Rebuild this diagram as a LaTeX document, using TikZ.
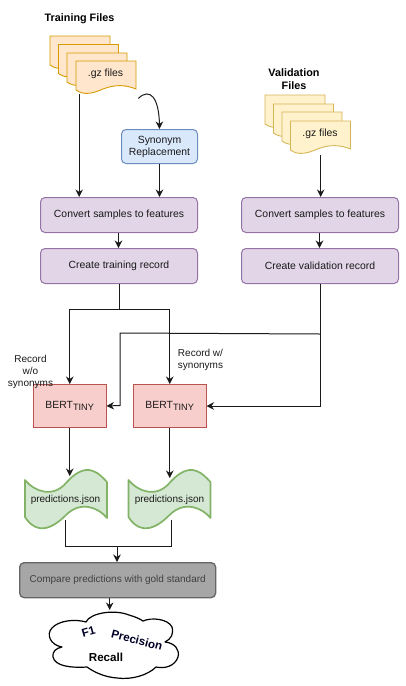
\documentclass[tikz,border=0pt]{standalone}
\usepackage{fontspec}
\setmainfont{Liberation Sans}
\usetikzlibrary{arrows.meta,calc}
\definecolor{orF}{HTML}{FFE6CC}\definecolor{orD}{HTML}{D79B00}
\definecolor{yeF}{HTML}{FFF2CC}\definecolor{yeD}{HTML}{D6B656}
\definecolor{blF}{HTML}{DAE8FC}\definecolor{blD}{HTML}{6C8EBF}
\definecolor{puF}{HTML}{E1D5E7}\definecolor{puD}{HTML}{9673A6}
\definecolor{reF}{HTML}{F8CECC}\definecolor{reD}{HTML}{B85450}
\definecolor{grF}{HTML}{D5E8D4}\definecolor{grD}{HTML}{82B366}
\definecolor{gyF}{HTML}{A6A6A6}\definecolor{gyD}{HTML}{666666}
\definecolor{ink}{HTML}{1A1A1A}
\tikzset{
  txt/.style={font=\fontsize{10.4}{12}\selectfont,text=ink,inner sep=0pt,align=center},
  smalltxt/.style={txt,font=\fontsize{10}{12}\selectfont},
  ttl/.style={font=\bfseries\fontsize{10.8}{13}\selectfont,text=black,inner sep=0pt,align=center},
  cloudtxt/.style={font=\bfseries\fontsize{11.6}{13}\selectfont,text=black,inner sep=0pt},
  flowbox/.style={txt,draw=puD,fill=puF,rounded corners=4.5pt,line width=1pt,minimum width=157pt,minimum height=35pt,anchor=north west},
  synbox/.style={txt,draw=blD,fill=blF,rounded corners=4.5pt,line width=1pt,minimum width=76pt,minimum height=34pt,anchor=north west},
  bertbox/.style={txt,draw=reD,fill=reF,line width=1pt,minimum width=72.5pt,minimum height=43pt,anchor=north west},
  cmpbox/.style={smalltxt,draw=gyD,fill=gyF,text=black!75,rounded corners=4.5pt,line width=1.3pt,minimum width=196pt,minimum height=35pt,anchor=north west},
  hidden/.style={inner sep=0pt,anchor=north west},
  wire/.style={draw=ink,line width=1pt},
  arrow/.style={wire,-{Stealth[length=7.5pt,width=7.5pt]}},
  sheet/.style={line width=.9pt},
  tapeline/.style={draw=grD,fill=grF,line width=1.7pt,line join=round}
}
% left, top, fill, draw
\newcommand{\docsheet}[4]{%
  \begin{scope}[shift={(#1,#2)}]
  \path[sheet,fill=#3,draw=#4] (0,0) -- (60,0) -- (60,28)
    .. controls (50,24) and (40,23) .. (27,28)
    .. controls (18,32) and (8,35) .. (0,29) -- cycle;
  \end{scope}}
% left edge, top
\newcommand{\tapeshape}[2]{%
  \begin{scope}[shift={(#1,#2)}]
  \path[tapeline] (0,10) .. controls (10,22) and (28,28) .. (41,13)
    .. controls (48,5) and (58,-3) .. (68,1)
    .. controls (74,3) and (78,8) .. (82,12)
    -- (82,48)
    .. controls (74,38) and (56,30) .. (41,45)
    .. controls (34,52) and (24,60) .. (14,58)
    .. controls (8,57) and (3,52) .. (0,47) -- cycle;
  \end{scope}}
\begin{document}
\begin{tikzpicture}[x=1pt,y=-1pt]
\useasboundingbox (0,0) rectangle (406,686);
\fill[white] (0,0) rectangle (406,686);

% document stacks
\docsheet{50}{36}{orF}{orD}
\docsheet{58.5}{44.5}{orF}{orD}
\docsheet{67}{53}{orF}{orD}
\docsheet{76}{61}{orF}{orD}
\docsheet{265}{95}{yeF}{yeD}
\docsheet{273.5}{104}{yeF}{yeD}
\docsheet{282}{112}{yeF}{yeD}
\docsheet{290.5}{121}{yeF}{yeD}

\node[ttl] (trainTitle) at (79.5,19) {Training Files};
\node[ttl] (valTitle) at (294,79) {Validation\\Files};
\node[hidden,minimum width=60pt,minimum height=33pt] (trainDoc) at (76,61) {};
\node[hidden,minimum width=60pt,minimum height=34pt] (valDoc) at (290.5,121) {};
\node[txt] (trainDocLabel) at (105.5,74) {.gz files};
\node[txt] (valDocLabel) at (320,134) {.gz files};

% boxes
\node[synbox] (syn) at (121,129) {Synonym\\Replacement};
\node[flowbox] (convT) at (40,197) {Convert samples to features};
\node[flowbox] (createT) at (40,248) {Create training record};
\node[flowbox] (convV) at (241,197) {Convert samples to features};
\node[flowbox] (createV) at (241,248) {Create validation record};
\newcommand{\berttext}{BERT\raisebox{-2.5pt}{\fontsize{9.2}{9}\selectfont TINY}}
\node[bertbox] (bertA) at (33,384) {\berttext};
\node[bertbox] (bertB) at (133,384) {\berttext};
\node[cmpbox] (cmp) at (19,562) {Compare predictions with gold standard};

% tapes
\tapeshape{25}{470}
\tapeshape{128.5}{470}
\node[hidden,minimum width=82pt,minimum height=58pt] (predA) at (25,470) {};
\node[hidden,minimum width=82pt,minimum height=58pt] (predB) at (128.5,470) {};
\node[smalltxt] (predAL) at (65.5,499.5) {predictions.json};
\node[smalltxt] (predBL) at (169.5,499.5) {predictions.json};

% cloud
\path[draw=black,fill=white,line width=1.2pt,line join=round]
  (62,647) .. controls (50,645) and (46,634) .. (52,628)
  .. controls (59,620) and (76,619) .. (86,622)
  .. controls (90,613) and (114,609) .. (129,615)
  .. controls (136,617) and (140,619) .. (143,621)
  .. controls (152,617) and (168,619) .. (172,627)
  .. controls (174,634) and (171,639) .. (165,642)
  .. controls (175,643) and (180,650) .. (178,657)
  .. controls (175,666) and (165,669) .. (156,667)
  .. controls (148,675) and (132,680) .. (117,678)
  .. controls (104,677) and (94,672) .. (87,667)
  .. controls (70,668) and (55,666) .. (53,657)
  .. controls (52,652) and (56,648) .. (62,647) -- cycle;
\node[hidden,minimum width=130pt,minimum height=66pt] (cloud) at (48,612) {};
\node[cloudtxt,text=black!85!blue,rotate=16] (f1) at (88.5,632) {F1};
\node[cloudtxt,text=black!85!blue,rotate=-15] (prec) at (137,640) {Precision};
\node[cloudtxt] (rec) at (106,657) {Recall};

% labels
\node[smalltxt] (lblNo) at (30.5,372) {Record\\w/o\\synonyms};
\node[smalltxt] (lblYes) at (200.5,360) {Record w/\\synonyms};

% connectors
\draw[arrow] ([xshift=-27pt]trainDoc.south) -- ([xshift=-27pt]trainDoc.south |- convT.north);
\draw[arrow] ([xshift=2pt,yshift=-4pt]trainDoc.south east) .. controls (150,87) and (159,98) .. (syn.north);
\draw[arrow] (syn.south) -- (syn.south |- convT.north);
\draw[arrow] ([xshift=-.5pt]convT.south) -- ([xshift=-.5pt]createT.north);
\draw[arrow] (valDoc.south) -- (valDoc.south |- convV.north);
\draw[arrow] ([xshift=-.5pt]convV.south) -- ([xshift=-.5pt]createV.north);

\coordinate (splitT) at ($(createT.south)+(0,25)$);
\draw[wire] (createT.south) -- (splitT);
\draw[arrow] (splitT) -| (bertA.north);
\draw[arrow] (splitT) -| (bertB.north);

\coordinate (splitV) at ($(createV.south)+(0,50)$);
\draw[arrow] (createV.south) |- (bertB.east);
\draw[arrow] (splitV) -- (120,333) -- (120,405.5) -- (bertA.east);

\draw[arrow] (bertA.south) -- ($(bertA.south)+(0,48)$);
\draw[arrow] (bertB.south) -- ($(bertB.south)+(0,50)$);

\coordinate (joinP) at (117,546);
\draw[wire] ($(predA.south)+(-.5,-8)$) |- (joinP);
\draw[wire] ($(predB.south)+(1.5,-8)$) |- (joinP);
\draw[arrow] (joinP) -- (joinP |- cmp.north);
\draw[arrow] ([xshift=-8pt]cmp.south) -- ([xshift=-8pt,yshift=2pt]cmp.south |- cloud.north);
\end{tikzpicture}
\end{document}
